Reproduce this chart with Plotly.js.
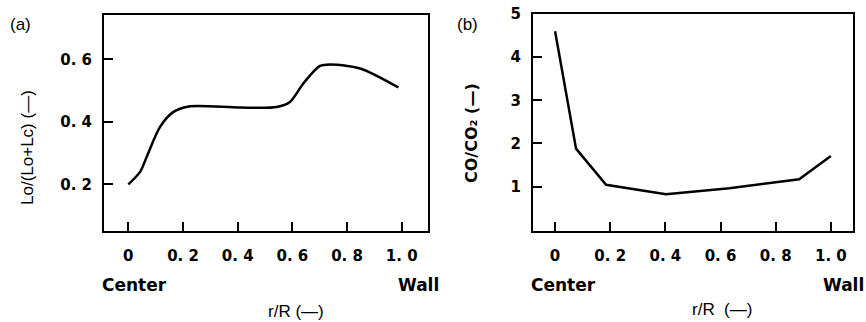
<!DOCTYPE html>
<html><head><meta charset="utf-8">
<script src="https://cdn.plot.ly/plotly-3.0.1.min.js"></script>
<style>html,body{margin:0;padding:0;background:#fff}</style>
</head><body>
<div id="chart" style="width:866px;height:322px"></div>
<script>
// Panel (a): Lo/(Lo+Lc) vs r/R
const aX = [0, 0.043, 0.067, 0.116, 0.165, 0.226, 0.409, 0.543, 0.591, 0.64, 0.701, 0.738, 0.848, 0.988];
const aY = [0.2, 0.24, 0.288, 0.384, 0.432, 0.45, 0.446, 0.448, 0.464, 0.523, 0.579, 0.584, 0.571, 0.51];
// Panel (b): CO/CO2 vs r/R
const bX = [0, 0.076, 0.185, 0.402, 0.632, 0.885, 1.0];
const bY = [4.6, 1.88, 1.04, 0.82, 0.96, 1.17, 1.71];
// Tick labels
const xTickVals = [0, 0.2, 0.4, 0.6, 0.8, 1.0];
const xTickText = ["0", "0. 2", "0. 4", "0. 6", "0. 8", "1. 0"];
const aYTickVals = [0.2, 0.4, 0.6];
const aYTickText = ["0. 2", "0. 4", "0. 6"];
const bYTickVals = [1, 2, 3, 4, 5];
const bYTickText = ["1", "2", "3", "4", "5"];

const gothic = "'DejaVu Sans', sans-serif";
const tickFont = {family: gothic, size: 15, color: '#000', weight: 'bold'};
const sans = "'Liberation Sans', Arial, sans-serif";

const axisCommon = {
  showline: true, mirror: true, linecolor: '#000', linewidth: 2,
  ticks: 'inside', ticklen: 9, tickwidth: 2, tickcolor: '#000',
  showgrid: false, zeroline: false, tickfont: tickFont, fixedrange: true
};

const traces = [
  {x: aX, y: aY, type: 'scatter', mode: 'lines', xaxis: 'x', yaxis: 'y',
   line: {color: '#000', width: 2.5, shape: 'spline', smoothing: 0.8}, hoverinfo: 'none'},
  {x: bX, y: bY, type: 'scatter', mode: 'lines', xaxis: 'x2', yaxis: 'y2',
   line: {color: '#000', width: 2.5}, hoverinfo: 'none'}
];

const bold = (size) => ({family: gothic, size: size, color: '#000', weight: 'bold'});
const plain = (size) => ({family: sans, size: size, color: '#000'});
const ann = (text, px, py, font, angle) => ({
  text: text, xref: 'paper', yref: 'paper', x: px / 866, y: 1 - py / 322,
  xanchor: 'center', yanchor: 'middle', showarrow: false, font: font, textangle: angle || 0
});

const layout = {
  width: 866, height: 322, showlegend: false,
  margin: {l: 0, r: 0, t: 0, b: 0},
  paper_bgcolor: '#fff', plot_bgcolor: '#fff',
  xaxis: Object.assign({}, axisCommon, {domain: [0.1201, 0.4942], range: [-0.089, 1.096],
    tickvals: xTickVals, ticktext: xTickText, anchor: 'y', ticklabelstandoff: 10}),
  yaxis: Object.assign({}, axisCommon, {domain: [0.2826, 0.9534], range: [0.051, 0.742],
    tickvals: aYTickVals, ticktext: aYTickText, anchor: 'x', ticklabelstandoff: 7}),
  xaxis2: Object.assign({}, axisCommon, {domain: [0.6155, 0.9846], range: [-0.08, 1.079],
    tickvals: xTickVals, ticktext: xTickText, anchor: 'y2', ticklabelstandoff: 10}),
  yaxis2: Object.assign({}, axisCommon, {domain: [0.2826, 0.9565], range: [-0.03, 5],
    tickvals: bYTickVals, ticktext: bYTickText, anchor: 'x2', ticklabelstandoff: 7}),
  annotations: [
    ann('(a)', 20, 25, plain(17)),
    ann('(b)', 467, 25, plain(17)),
    ann('Lo/(Lo+Lc) (—)', 27, 148, plain(17), -90),
    ann('CO/CO₂ (—)', 471, 133, bold(16), -90),
    ann('Center', 134, 285, bold(17)),
    ann('Wall', 418, 285, bold(17)),
    ann('Center', 563, 285, bold(17)),
    ann('Wall', 843, 285, bold(17)),
    ann('r/R (—)', 296, 311, plain(17)),
    ann('r/R  (—)', 722, 309, plain(17))
  ]
};

Plotly.newPlot('chart', traces, layout, {displayModeBar: false, staticPlot: true});
</script>
</body></html>
